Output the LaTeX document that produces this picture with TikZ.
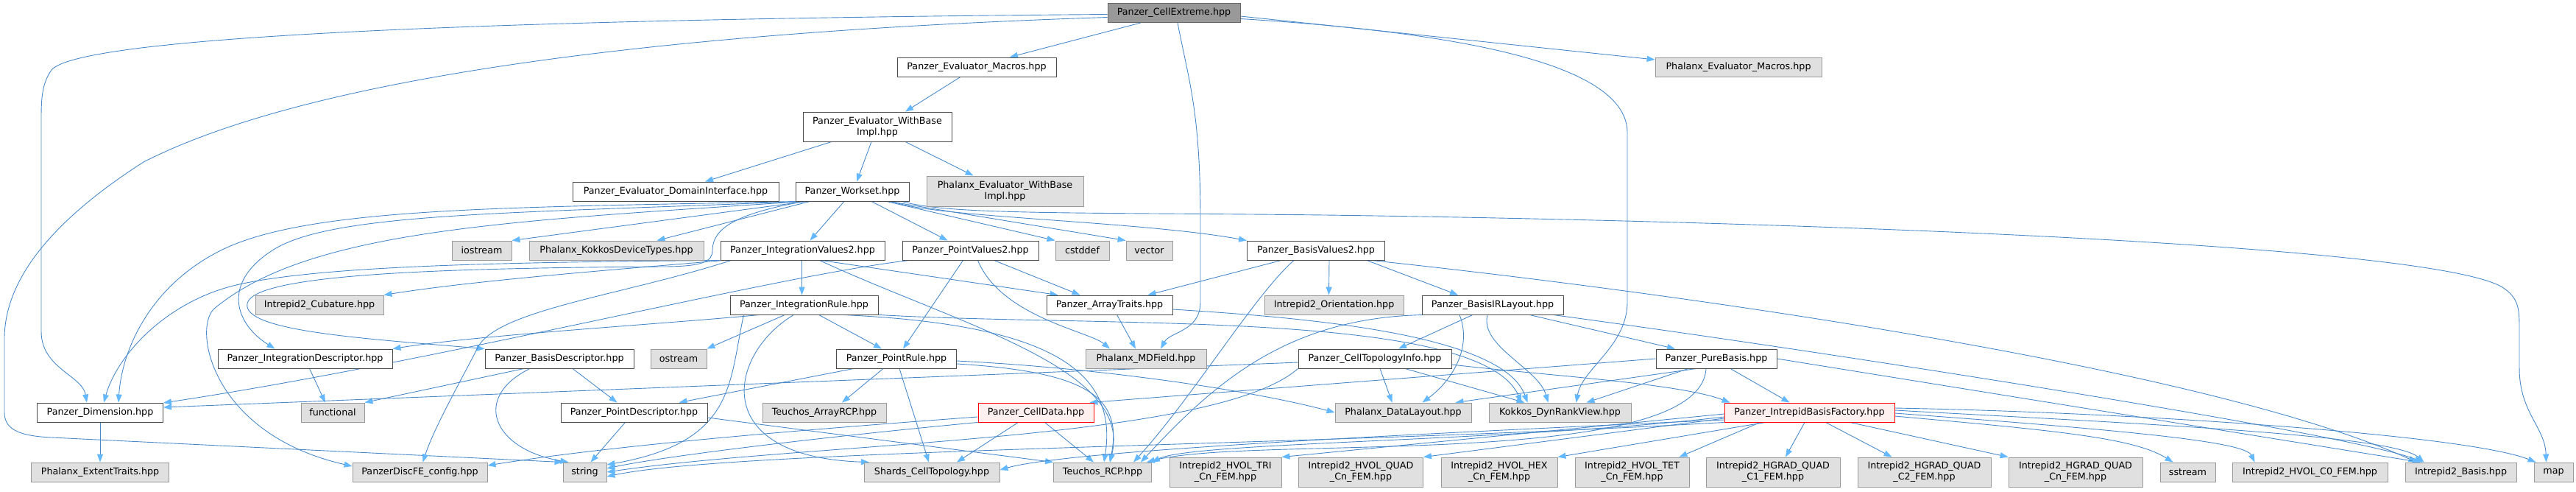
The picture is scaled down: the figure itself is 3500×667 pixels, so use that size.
\documentclass[tikz,border=0pt]{standalone}
\usepackage{fontspec}
\setmainfont{DejaVu Sans}
\usetikzlibrary{arrows.meta}
\definecolor{edgeblue}{HTML}{4A8ACB}
\definecolor{tipblue}{HTML}{63B8FF}
\definecolor{boxgray}{HTML}{E0E0E0}
\definecolor{framegray}{HTML}{999999}
\definecolor{rootgray}{HTML}{999999}
\definecolor{rootframe}{HTML}{666666}
\definecolor{redfill}{HTML}{FFF0F0}
\pgfdeclarelayer{background}
\pgfsetlayers{background,main}

\begin{document}
\begin{tikzpicture}[x=1pt,y=-1pt,
  hdr/.style={draw=black!70, fill=white, line width=0.9pt, inner sep=0pt,
    minimum height=26pt, align=center, font=\fontsize{12.7}{15}\selectfont},
  sys/.style={hdr, draw=framegray, fill=boxgray},
  rootbox/.style={hdr, draw=rootframe, fill=rootgray},
  trunc/.style={hdr, draw=red, fill=redfill},
  dep/.style={draw=edgeblue, line width=0.9pt, -{Triangle[length=11pt,width=8pt,color=tipblue]}}]
\useasboundingbox (0,0) rectangle (3500,667);

% headers
\node[rootbox, minimum width=180pt] (root) at (1595,17.5) {Panzer\_CellExtreme.hpp};
\node[hdr, minimum width=216pt] (evm) at (1327,91) {Panzer\_Evaluator\_Macros.hpp};
\node[sys, minimum width=226pt] (pem) at (2362,91) {Phalanx\_Evaluator\_Macros.hpp};
\node[hdr, minimum width=202pt, minimum height=40pt] (ewb) at (1192,172) {Panzer\_Evaluator\_WithBase\\Impl.hpp};
\node[hdr, minimum width=280pt] (dom) at (918,260) {Panzer\_Evaluator\_DomainInterface.hpp};
\node[hdr, minimum width=154pt] (ws) at (1158,260) {Panzer\_Workset.hpp};
\node[sys, minimum width=213pt, minimum height=41pt] (pwb) at (1365.5,259.5) {Phalanx\_Evaluator\_WithBase\\Impl.hpp};
\node[sys, minimum width=81pt] (ios) at (654.5,340) {iostream};
\node[sys, minimum width=237pt] (pkd) at (837.5,340) {Phalanx\_KokkosDeviceTypes.hpp};
\node[hdr, minimum width=223pt] (iv2) at (1090.5,340) {Panzer\_IntegrationValues2.hpp};
\node[hdr, minimum width=185pt] (pv2) at (1318.5,340) {Panzer\_PointValues2.hpp};
\node[sys, minimum width=73pt] (csd) at (1470.5,340) {cstddef};
\node[sys, minimum width=63pt] (vec) at (1561.5,340) {vector};
\node[hdr, minimum width=187pt] (bv2) at (1788,340) {Panzer\_BasisValues2.hpp};
\node[sys, minimum width=174pt] (cub) at (434,414) {Intrepid2\_Cubature.hpp};
\node[hdr, minimum width=201pt] (ir) at (1092.5,414) {Panzer\_IntegrationRule.hpp};
\node[hdr, minimum width=171pt] (at) at (1507.5,414) {Panzer\_ArrayTraits.hpp};
\node[sys, minimum width=189pt] (ori) at (1812.5,414) {Intrepid2\_Orientation.hpp};
\node[hdr, minimum width=192pt] (birl) at (2028,414) {Panzer\_BasisIRLayout.hpp};
\node[hdr, minimum width=237pt] (intd) at (414.5,487) {Panzer\_IntegrationDescriptor.hpp};
\node[hdr, minimum width=202pt] (bd) at (760,487) {Panzer\_BasisDescriptor.hpp};
\node[sys, minimum width=76pt] (ost) at (922,487) {ostream};
\node[hdr, minimum width=163pt] (pr) at (1218,487) {Panzer\_PointRule.hpp};
\node[sys, minimum width=164pt] (mdf) at (1557,487) {Phalanx\_MDField.hpp};
\node[hdr, minimum width=208pt] (cti) at (1868,487) {Panzer\_CellTopologyInfo.hpp};
\node[hdr, minimum width=164pt] (pb) at (2332,487) {Panzer\_PureBasis.hpp};
\node[hdr, minimum width=171pt] (dim) at (136,560) {Panzer\_Dimension.hpp};
\node[sys, minimum width=86pt] (fun) at (452,560) {functional};
\node[hdr, minimum width=199pt] (pd) at (861.5,560) {Panzer\_PointDescriptor.hpp};
\node[sys, minimum width=168pt] (arcp) at (1120,560) {Teuchos\_ArrayRCP.hpp};
\node[trunc, minimum width=157pt] (cd) at (1407.5,560) {Panzer\_CellData.hpp};
\node[sys, minimum width=185pt] (dl) at (1906.5,560) {Phalanx\_DataLayout.hpp};
\node[sys, minimum width=193pt] (drv) at (2119.5,560) {Kokkos\_DynRankView.hpp};
\node[trunc, minimum width=231pt] (ibf) at (2458.5,560) {Panzer\_IntrepidBasisFactory.hpp};
\node[sys, minimum width=187pt] (ext) at (136,641) {Phalanx\_ExtentTraits.hpp};
\node[sys, minimum width=183pt] (cfg) at (570.5,641) {PanzerDiscFE\_config.hpp};
\node[sys, minimum width=59pt] (str) at (794.5,641) {string};
\node[sys, minimum width=184pt] (sct) at (1266,641) {Shards\_CellTopology.hpp};
\node[sys, minimum width=133pt] (rcp) at (1498,641) {Teuchos\_RCP.hpp};
\node[sys, minimum width=152pt, minimum height=40pt] (tri) at (1665,641) {Intrepid2\_HVOL\_TRI\\\_Cn\_FEM.hpp};
\node[sys, minimum width=169pt, minimum height=40pt] (quad) at (1849,641) {Intrepid2\_HVOL\_QUAD\\\_Cn\_FEM.hpp};
\node[sys, minimum width=158pt, minimum height=40pt] (hex) at (2037,641) {Intrepid2\_HVOL\_HEX\\\_Cn\_FEM.hpp};
\node[sys, minimum width=155pt, minimum height=40pt] (tet) at (2217.5,641) {Intrepid2\_HVOL\_TET\\\_Cn\_FEM.hpp};
\node[sys, minimum width=182pt, minimum height=40pt] (hq1) at (2409,641) {Intrepid2\_HGRAD\_QUAD\\\_C1\_FEM.hpp};
\node[sys, minimum width=181pt, minimum height=40pt] (hq2) at (2614.5,641) {Intrepid2\_HGRAD\_QUAD\\\_C2\_FEM.hpp};
\node[sys, minimum width=182pt, minimum height=40pt] (hqn) at (2820,641) {Intrepid2\_HGRAD\_QUAD\\\_Cn\_FEM.hpp};
\node[sys, minimum width=75pt] (sst) at (2972.5,641) {sstream};
\node[sys, minimum width=211pt] (c0) at (3138.5,641) {Intrepid2\_HVOL\_C0\_FEM.hpp};
\node[sys, minimum width=151pt] (bas) at (3343.5,641) {Intrepid2\_Basis.hpp};
\node[sys, minimum width=53pt] (map) at (3469.5,641) {map};

\begin{pgfonlayer}{background}
% from the top file
\draw[dep] ([xshift=-45pt]root.south) -- ([xshift=45pt]evm.north);
\draw[dep] ([yshift=-4.5pt]root.east) -- ([yshift=10pt]pem.west);
\draw[dep] ([yshift=-2pt]root.west) .. controls (700,26) and (110,48) .. (70,95) .. controls (58,112) and (56,130) .. (56,160) -- (56,450) .. controls (56,500) and (112,510) .. ([xshift=-18pt]dim.north);
\draw[dep] ([yshift=-6pt]root.west) .. controls (1000,40) and (450,90) .. (195,220) .. controls (70,300) and (6,380) .. (6,460) -- (6,560) .. controls (6,585) and (30,592) .. (70,594) -- (str.north west);
\draw[dep] ([xshift=5pt]root.south) .. controls (1615,110) and (1631,150) .. (1631,300) -- (1631,410) .. controls (1631,450) and (1590,450) .. ([xshift=20pt]mdf.north);
\draw[dep] ([yshift=-8pt]root.east) .. controls (2000,45) and (2211,90) .. (2211,180) -- (2211,410) .. controls (2211,470) and (2150,500) .. ([xshift=22pt]drv.north);

% evaluator chain
\draw[dep] ([xshift=-22pt]evm.south) -- ([xshift=38pt]ewb.north);
\foreach \t/\a/\b in {dom/-62/40, ws/-8/6, pwb/38/-43}
  \draw[dep] ([xshift=\a pt]ewb.south) -- ([xshift=\b pt]\t.north);

% workset
\draw[dep] ([xshift=15pt]ws.south west) -- (ios.north east);
\draw[dep] ([xshift=20pt]ws.south west) -- ([xshift=55pt]pkd.north);
\draw[dep] ([xshift=-11pt]ws.south) -- ([xshift=10pt]iv2.north);
\draw[dep] ([xshift=26pt]ws.south) -- ([xshift=-31pt]pv2.north);
\draw[dep] ([xshift=-31pt]ws.south east) -- (csd.north west);
\draw[dep] ([xshift=-28pt]ws.south east) -- (vec.north west);
\draw[dep] ([xshift=-22pt]ws.south east) .. controls (1260,295) and (1550,300) .. (bv2.north west);
\draw[dep] ([xshift=-10pt]ws.south east) .. controls (1290,292) and (1450,288) .. (1800,292) .. controls (2400,300) and (3300,330) .. (3400,390) .. controls (3423,405) and (3423,420) .. (3423,450) -- (3423,500) .. controls (3423,560) and (3458,580) .. ([xshift=-10pt]map.north);
\draw[dep] ([xshift=2pt]ws.south west) .. controls (700,282) and (420,280) .. (300,340) .. controls (200,390) and (165,480) .. ([xshift=25pt]dim.north);
\draw[dep] ([xshift=6pt]ws.south west) .. controls (700,290) and (450,288) .. (370,340) .. controls (300,385) and (320,440) .. ([xshift=-41pt]intd.north);
\draw[dep] ([xshift=10pt]ws.south west) .. controls (700,300) and (420,310) .. (290,420) .. controls (262,450) and (290,590) .. ([yshift=8pt]cfg.west);
\draw[dep] ([xshift=12pt]ws.south west) .. controls (1000,290) and (968,310) .. (968,340) .. controls (968,355) and (955,362) .. (900,362) .. controls (600,364) and (345,372) .. (336,412) .. controls (328,450) and (500,460) .. (bd.north west);

% integration values
\draw[dep] ([xshift=5pt]iv2.south west) .. controls (850,365) and (650,380) .. (cub.north east);
\draw[dep] ([xshift=-1pt]iv2.south) -- ([xshift=-3pt]ir.north);
\draw[dep] ([xshift=25pt]iv2.south) -- ([xshift=-70pt]at.north);
\draw[dep] (iv2.south west) .. controls (700,356) and (450,360) .. (330,385) .. controls (230,405) and (160,480) .. ([xshift=5pt]dim.north);
\draw[dep] ([xshift=15pt]iv2.south west) .. controls (850,400) and (680,420) .. (650,470) .. controls (630,510) and (590,580) .. ([xshift=4pt]cfg.north);
\draw[dep] ([xshift=23pt]iv2.south) .. controls (1300,440) and (1540,500) .. ([xshift=10pt]rcp.north);

% point values
\draw[dep] ([xshift=-10pt]pv2.south) -- ([xshift=9pt]pr.north);
\draw[dep] ([xshift=32pt]pv2.south) -- ([xshift=-40pt]at.north);
\draw[dep] ([xshift=10pt]pv2.south) .. controls (1360,430) and (1480,450) .. ([xshift=-49pt]mdf.north);
\draw[dep] ([xshift=10pt]pv2.south west) .. controls (1050,375) and (600,490) .. ([yshift=13pt]dim.east);

% basis values
\draw[dep] ([xshift=-47pt]bv2.south) -- ([xshift=52pt]at.north);
\draw[dep] ([xshift=18pt]bv2.south) -- ([xshift=-7pt]ori.north);
\draw[dep] ([xshift=69pt]bv2.south) -- ([xshift=-47pt]birl.north);
\draw[dep] ([xshift=-30pt]bv2.south) .. controls (1705,400) and (1620,540) .. ([xshift=42pt]rcp.north);
\draw[dep] ([xshift=75pt]bv2.south) .. controls (2300,400) and (3000,500) .. ([xshift=-60pt]bas.north);

% integration rule
\draw[dep] ([xshift=-26pt]ir.south) -- (ost.north east);
\draw[dep] ([xshift=20pt]ir.south) -- ([xshift=-20pt]pr.north);
\draw[dep] ([xshift=-14pt]ir.south) .. controls (990,480) and (960,620) .. ([xshift=-85pt]sct.north);
\draw[dep] ([xshift=-60pt]ir.south) .. controls (900,440) and (650,455) .. (intd.north east);
\draw[dep] ([xshift=-82pt]ir.south) .. controls (990,520) and (1000,600) .. ([yshift=10pt]str.east);
\draw[dep] ([xshift=52pt]ir.south) .. controls (1420,440) and (1520,500) .. ([xshift=2pt]rcp.north);
\draw[dep] (ir.south east) .. controls (1500,445) and (2010,420) .. ([xshift=-52pt]drv.north);

% array traits
\draw[dep] ([xshift=10pt]at.south) -- ([xshift=-14pt]mdf.north);
\draw[dep] ([yshift=-6pt]at.east) .. controls (1750,430) and (2040,450) .. ([xshift=-44pt]drv.north);

% point rule
\draw[dep] ([xshift=-58pt]pr.south) -- ([xshift=61pt]pd.north);
\draw[dep] ([xshift=-18pt]pr.south) -- ([xshift=24pt]arcp.north);
\draw[dep] ([xshift=4pt]pr.south) -- ([xshift=-4pt]sct.north);
\draw[dep] ([yshift=-7pt]pr.east) .. controls (1480,505) and (1525,540) .. ([xshift=10pt]rcp.north);
\draw[dep] ([yshift=-3pt]pr.east) .. controls (1500,500) and (1700,530) .. (dl.west);

% descriptors
\draw[dep] ([xshift=-48pt]bd.south) -- (fun.north east);
\draw[dep] ([xshift=18pt]bd.south) -- ([xshift=-23pt]pd.north);
\draw[dep] ([xshift=-40pt]bd.south) .. controls (640,540) and (670,610) .. ([xshift=-22pt]str.north);
\draw[dep] ([xshift=6pt]intd.south) -- ([xshift=-10pt]fun.north);
\draw[dep] ([xshift=-12pt]pd.south) -- ([xshift=8pt]str.north);
\draw[dep] ([yshift=-7pt]pd.east) -- (rcp.north west);
\draw[dep] (dim) -- (ext);

% cell data
\draw[dep] ([xshift=-24pt]cd.south) -- ([xshift=34pt]sct.north);
\draw[dep] ([xshift=12pt]cd.south) -- ([xshift=-12pt]rcp.north);
\draw[dep] (cd.south west) .. controls (1100,595) and (900,620) .. ([yshift=5pt]str.east);
\draw[dep] ([yshift=-6pt]cd.west) .. controls (1000,590) and (800,610) .. ([yshift=9pt]cfg.east);

% cell topology info
\draw[dep] ([xshift=7pt]cti.south) -- ([xshift=-15pt]dl.north);
\draw[dep] ([xshift=41pt]cti.south) -- ([xshift=-48pt]drv.north);
\draw[dep] ([yshift=-5pt]cti.west) -- ([yshift=7pt]dim.east);
\draw[dep] (cti.south west) .. controls (1650,600) and (1100,600) .. (str.east);
\draw[dep] ([yshift=-8pt]cti.east) .. controls (2100,510) and (2280,520) .. ([xshift=8pt]ibf.north west);

% basis IR layout
\draw[dep] ([xshift=-27pt]birl.south) -- ([xshift=32pt]cti.north);
\draw[dep] ([xshift=50pt]birl.south) -- ([xshift=-56pt]pb.north);
\draw[dep] ([xshift=-7pt]birl.south) .. controls (2010,470) and (2090,500) .. ([xshift=-16pt]drv.north);
\draw[dep] ([xshift=-45pt]birl.south) .. controls (2000,470) and (1975,515) .. ([xshift=26pt]dl.north);
\draw[dep] ([xshift=-90pt]birl.south) .. controls (1750,430) and (1650,520) .. ([xshift=52pt]rcp.north);
\draw[dep] ([xshift=82pt]birl.south) .. controls (2500,480) and (3200,590) .. ([xshift=-52pt]bas.north);

% pure basis
\draw[dep] ([xshift=19pt]pb.south) -- ([xshift=-27pt]ibf.north);
\draw[dep] ([xshift=-27pt]pb.south) -- ([xshift=71pt]dl.north);
\draw[dep] ([xshift=-38pt]pb.south) -- ([xshift=36pt]drv.north);
\draw[dep] (pb.west) -- ([xshift=-6pt]cd.north east);
\draw[dep] (pb.east) -- ([xshift=-55pt]bas.north);
\draw[dep] ([xshift=-14pt]pb.south) .. controls (2310,640) and (1700,590) .. ([xshift=60pt]rcp.north);

% basis factory
\foreach \t/\a/\b in {tet/-67/64, hq1/-6.5/17, hq2/22/-44}
  \draw[dep] ([xshift=\a pt]ibf.south) -- ([xshift=\b pt]\t.north);
\draw[dep] ([xshift=55pt]ibf.south) -- (hqn.north west);
\draw[dep] ([xshift=-60pt]ibf.south) -- (hex.north east);
\draw[dep] ([yshift=-8pt]ibf.west) -- (quad.north east);
\draw[dep] ([yshift=-2pt]ibf.west) -- (tri.north east);
\draw[dep] ([yshift=-6pt]ibf.west) .. controls (2050,600) and (1620,600) .. (rcp.north east);
\draw[dep] ([yshift=-10pt]ibf.west) .. controls (1900,590) and (1450,612) .. ([yshift=3pt]sct.east);
\draw[dep] (ibf.south west) .. controls (1800,605) and (1000,610) .. ([yshift=-6pt]str.east);
\draw[dep] ([yshift=-5pt]ibf.east) .. controls (2800,585) and (2900,595) .. ([xshift=-20pt]sst.north);
\draw[dep] ([yshift=-1pt]ibf.east) .. controls (2900,585) and (3050,600) .. ([xshift=-75pt]c0.north);
\draw[dep] ([yshift=3pt]ibf.east) .. controls (2900,575) and (3250,590) .. ([xshift=-50pt]bas.north);
\draw[dep] ([yshift=6pt]ibf.east) .. controls (2900,560) and (3350,590) .. ([xshift=-24pt]map.north);
\end{pgfonlayer}
\end{tikzpicture}
\end{document}
